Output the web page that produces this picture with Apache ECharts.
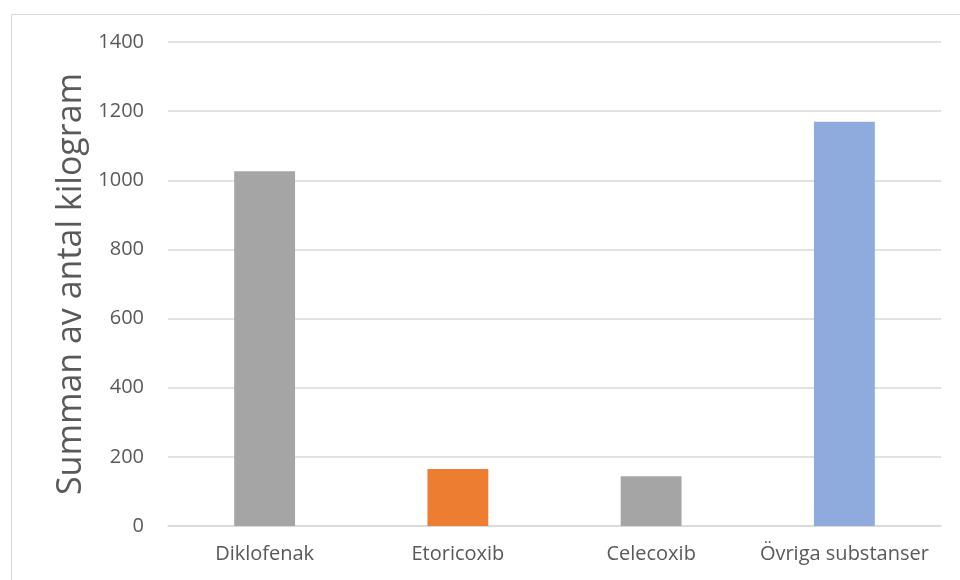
<!DOCTYPE html>
<html>
<head>
<meta charset="utf-8">
<script src="https://cdn.jsdelivr.net/npm/echarts@6/dist/echarts.min.js"></script>
<style>
  html, body { margin: 0; padding: 0; background: #fff; }
  #chart { width: 960px; height: 580px; }
</style>
</head>
<body>
<div id="chart"></div>
<script>
const categories = ['Diklofenak', 'Etoricoxib', 'Celecoxib', 'Övriga substanser'];
const values = [1026, 165, 144, 1169];
const barColors = ['#A5A5A5', '#ED7D31', '#A5A5A5', '#8FAADC'];

const chart = echarts.init(document.getElementById('chart'));

const option = {
  animation: false,
  grid: { left: 168, right: 19, top: 42, bottom: 54 },
  graphic: {
    elements: [{
      type: 'rect',
      left: 9, top: 12,
      shape: { width: 960, height: 600 },
      style: { fill: 'none', stroke: '#D9D9D9', lineWidth: 1 },
      silent: true
    }]
  },
  xAxis: {
    type: 'category',
    data: categories,
    axisLine: { lineStyle: { color: '#D9D9D9', width: 1.5 } },
    axisTick: { show: false },
    axisLabel: { color: '#595959', fontSize: 20, fontFamily: 'Open Sans', margin: 18, interval: 0 }
  },
  yAxis: {
    type: 'value',
    min: 0, max: 1400, interval: 200,
    name: 'Summan av antal kilogram',
    nameLocation: 'middle',
    nameGap: 80,
    nameMoveOverlap: false,
    nameTextStyle: { color: '#595959', fontSize: 34, fontFamily: 'Open Sans' },
    axisLine: { show: false },
    axisTick: { show: false },
    axisLabel: {
      color: '#595959', fontSize: 20, fontFamily: 'Open Sans', margin: 24,
      formatter: function (v) { return String(v); }
    },
    splitLine: { lineStyle: { color: '#D9D9D9', width: 1.5 } }
  },
  series: [{
    type: 'bar',
    barWidth: '31.5%',
    data: values.map((v, i) => ({ value: v, itemStyle: { color: barColors[i] } }))
  }]
};

chart.setOption(option);
</script>
</body>
</html>
